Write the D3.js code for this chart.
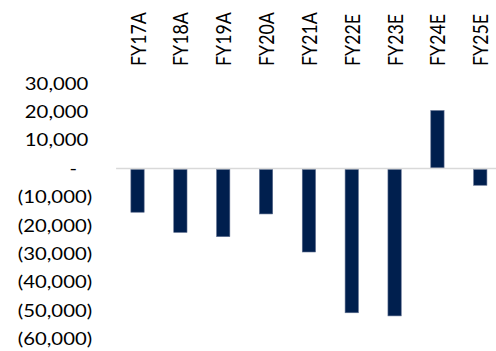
<!DOCTYPE html>
<html>
<head>
<meta charset="utf-8">
<script src="https://cdn.jsdelivr.net/npm/d3@7"></script>
<style>
  html, body { margin: 0; padding: 0; background: #ffffff; }
  svg { display: block; }
  text { font-family: Lato, "Open Sans", sans-serif; fill: #000000; }
</style>
</head>
<body>
<svg id="chart" width="496" height="351"></svg>
<script>
// ---- data ----
const categories = ["FY17A", "FY18A", "FY19A", "FY20A", "FY21A", "FY22E", "FY23E", "FY24E", "FY25E"];
const values = [-15400, -22500, -24000, -16000, -29400, -50800, -51900, 20400, -5900];
const yTicks = [30000, 20000, 10000, 0, -10000, -20000, -30000, -40000, -50000, -60000];

// ---- layout ----
const W = 496, H = 351;
const plotLeft = 116.1, plotRight = 501.7;
const yTop = 83.3, yBottom = 338.9;
const labelRight = 88.3;
const fontSize = 17.8;
const stretch = 1.14;
const barColor = "#001F4E";

const svg = d3.select("#chart");

const x = d3.scaleBand()
  .domain(categories)
  .range([plotLeft, plotRight])
  .paddingInner(0.69)
  .paddingOuter(0.345);

const y = d3.scaleLinear()
  .domain([-60000, 30000])
  .range([yBottom, yTop]);

// measure helper
function measure(str) {
  const t = svg.append("text").attr("font-size", fontSize).text(str);
  const w = t.node().getComputedTextLength();
  t.remove();
  return w;
}
const parenW = measure(")") * stretch;
const digitW = measure("0") * stretch;

// ---- bars ----
svg.append("g")
  .selectAll("rect")
  .data(values)
  .join("rect")
  .attr("x", (d, i) => x(categories[i]))
  .attr("width", x.bandwidth())
  .attr("y", d => d >= 0 ? y(d) : y(0) + 0.8)
  .attr("height", d => Math.abs(y(d) - y(0)) - (d >= 0 ? 0.6 : 0.8))
  .attr("fill", barColor)
  .attr("stroke", "#5d6d8e")
  .attr("stroke-width", 0.6);

// ---- zero line ----
svg.append("line")
  .attr("x1", plotLeft)
  .attr("x2", W)
  .attr("y1", y(0))
  .attr("y2", y(0))
  .attr("stroke", "#d9d9d9")
  .attr("stroke-width", 1.6);

// ---- y axis ----
const fmt = d3.format(",");
const yAxis = d3.axisLeft(y)
  .tickValues(yTicks)
  .tickSize(0)
  .tickFormat(d => d === 0 ? "-" : d < 0 ? "(" + fmt(-d) + ")" : fmt(d));

const yg = svg.append("g").call(yAxis);
yg.select(".domain").remove();
yg.selectAll(".tick").attr("transform", null);
yg.selectAll(".tick text")
  .attr("font-family", "Lato, 'Open Sans', sans-serif")
  .attr("font-size", fontSize)
  .attr("fill", "#000")
  .attr("text-anchor", "end")
  .attr("dy", "0.35em")
  .attr("x", null)
  .attr("transform", d => {
    let xr = labelRight;
    if (d < 0) xr = labelRight + parenW * 0.7;
    if (d === 0) xr = labelRight - digitW * 0.95;
    return `translate(${xr},${y(d)}) scale(${stretch},1)`;
  });

// ---- x axis (category labels at top, rotated) ----
const xAxis = d3.axisTop(x).tickSize(0);
const xg = svg.append("g").call(xAxis);
xg.select(".domain").remove();
xg.selectAll(".tick").attr("transform", null);
xg.selectAll(".tick text")
  .attr("font-family", "Lato, 'Open Sans', sans-serif")
  .attr("font-size", fontSize)
  .attr("fill", "#000")
  .attr("text-anchor", "start")
  .attr("x", null)
  .attr("y", null)
  .attr("dy", null)
  .attr("transform", d => `translate(${x(d) + x.bandwidth() / 2 + 8},66) scale(${stretch},1) rotate(-90)`);
</script>
</body>
</html>
